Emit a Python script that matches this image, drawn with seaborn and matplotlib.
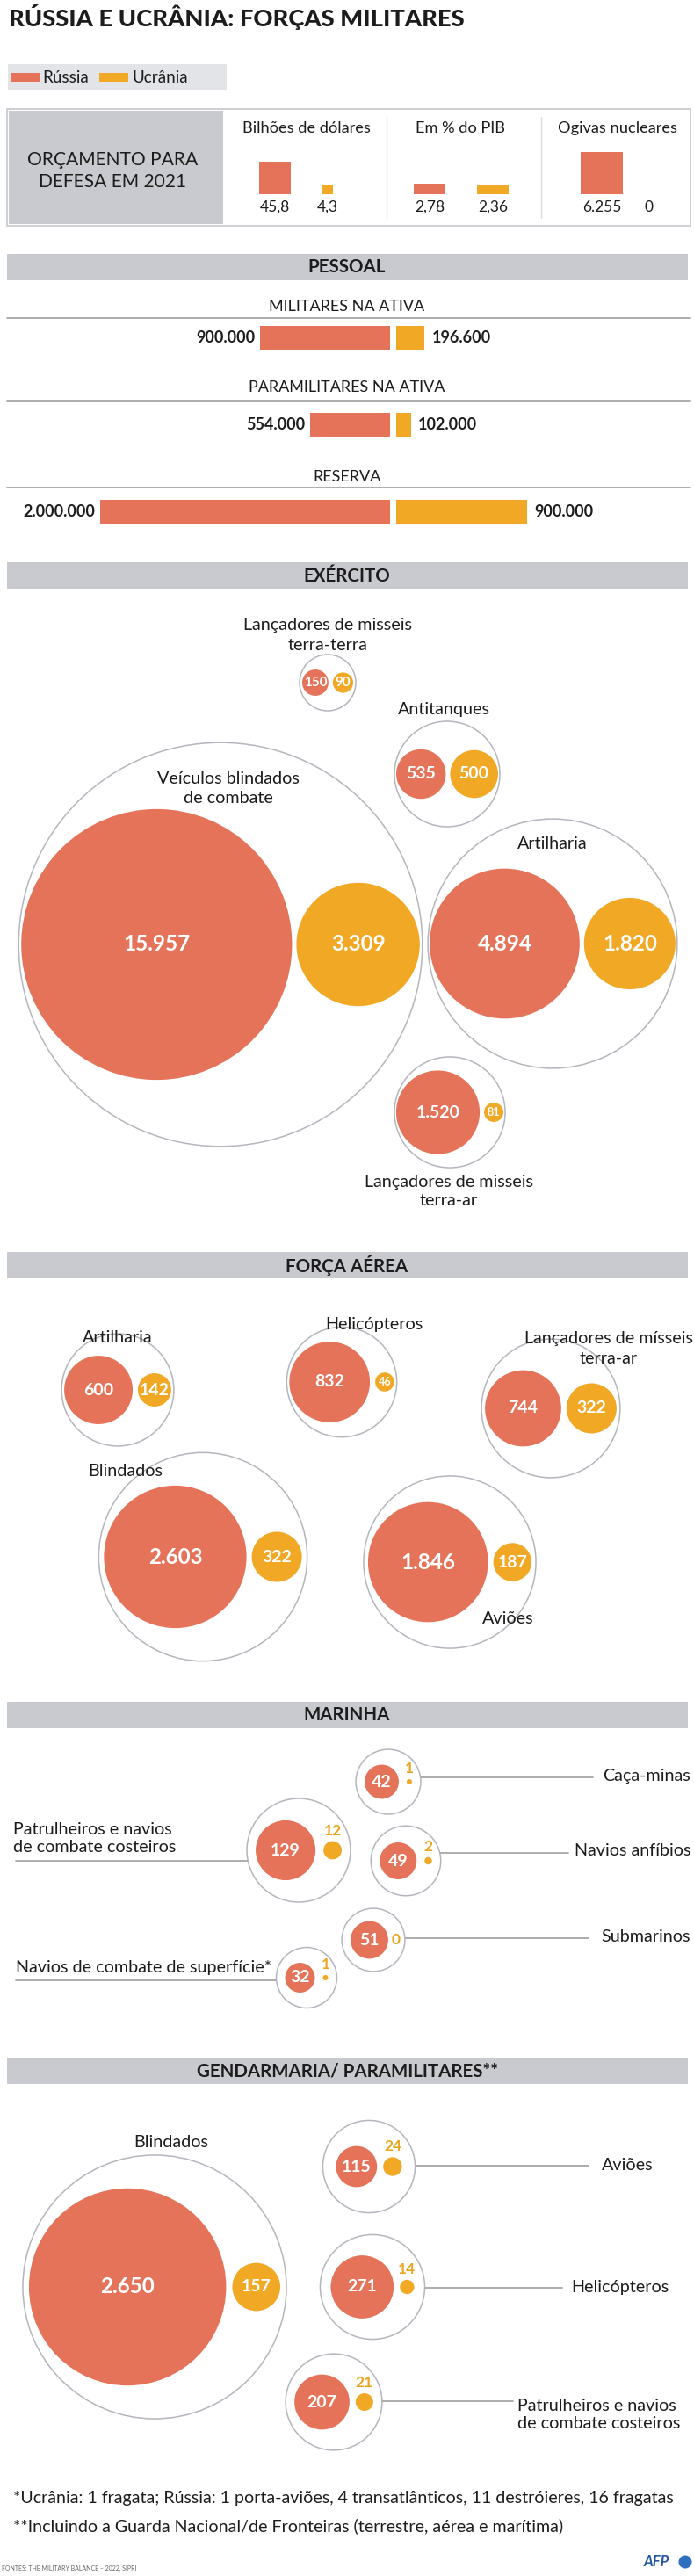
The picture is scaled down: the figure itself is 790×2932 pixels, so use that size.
import numpy as np
import pandas as pd
import matplotlib
matplotlib.use("Agg")
import matplotlib.pyplot as plt
from matplotlib.patches import Rectangle, Circle
import seaborn as sns

# ---------------- DATA ----------------
legend_labels = ["Rússia", "Ucrânia"]

budget_titles = ["Bilhões de dólares", "Em % do PIB", "Ogivas nucleares"]
budget_russia = [45.8, 2.78, 6255]
budget_ukraine = [4.3, 2.36, 0]

personnel_titles = ["MILITARES NA ATIVA", "PARAMILITARES NA ATIVA", "RESERVA"]
personnel_russia = [900000, 554000, 2000000]
personnel_ukraine = [196600, 102000, 900000]

army_titles = ["Lançadores de misseis\nterra-terra", "Antitanques",
               "Veículos blindados\nde combate", "Artilharia",
               "Lançadores de misseis\nterra-ar"]
army_russia = [150, 535, 15957, 4894, 1520]
army_ukraine = [90, 500, 3309, 1820, 81]

air_titles = ["Artilharia", "Helicópteros", "Lançadores de mísseis\nterra-ar",
              "Blindados", "Aviões"]
air_russia = [600, 832, 744, 2603, 1846]
air_ukraine = [142, 46, 322, 322, 187]

navy_titles = ["Caça-minas", "Patrulheiros e navios\nde combate costeiros",
               "Navios anfíbios", "Submarinos", "Navios de combate de superfície*"]
navy_russia = [42, 129, 49, 51, 32]
navy_ukraine = [1, 12, 2, 0, 1]

gend_titles = ["Blindados", "Aviões", "Helicópteros",
               "Patrulheiros e navios\nde combate costeiros"]
gend_russia = [2650, 115, 271, 207]
gend_ukraine = [157, 24, 14, 21]

section_titles = ["PESSOAL", "EXÉRCITO", "FORÇA AÉREA", "MARINHA",
                  "GENDARMARIA/ PARAMILITARES**"]
title_text = "RÚSSIA E UCRÂNIA: FORÇAS MILITARES"
budget_panel_text = ["ORÇAMENTO PARA", "DEFESA EM 2021"]
footnotes = ["*Ucrânia: 1 fragata; Rússia: 1 porta-aviões, 4 transatlânticos, 11 destróieres, 16 fragatas",
             "**Incluindo a Guarda Nacional/de Fronteiras (terrestre, aérea e marítima)"]
source_text = "FONTES: THE MILITARY BALANCE – 2022, SIPRI"

# ---------------- STYLE / LAYOUT ----------------
RUS = "#E4735A"
UKR = "#F1A824"
UKR_TXT = "#E9A51E"
GRAY_BAR = "#C9CAD0"
OUTLINE = "#B3B6BD"
LINE = "#9E9E9E"
TXT = "#1C1C1C"
PALETTE = {legend_labels[0]: RUS, legend_labels[1]: UKR}

W, H = 790, 2932
HEADER_Y = [289, 640, 1425, 1937, 2342]

sns.set_theme(style="white")
plt.rcParams['font.family'] = ['Lato', 'DejaVu Sans']

fig = plt.figure(figsize=(W / 100, H / 100), dpi=100)
fig.patch.set_facecolor("white")
ax = fig.add_axes([0, 0, 1, 1])
ax.set_xlim(0, W)
ax.set_ylim(H, 0)
ax.axis("off")
renderer = fig.canvas.get_renderer()


def text_width(s, fs, weight):
    t = ax.text(0, 0, s, fontsize=fs, fontweight=weight)
    w = t.get_window_extent(renderer).width
    t.remove()
    return w


def fit_size(pairs, weight="normal", base=13.0):
    """font size whose rendered width matches the reference widths (median)"""
    return float(np.median([base * tw / text_width(s, base, weight) for s, tw in pairs]))


TITLE_WEIGHT = "black"
FS_TITLE = fit_size([(title_text, 517)], TITLE_WEIGHT)
FS_LEGEND = fit_size([("Rússia", 53), ("Ucrânia", 63)])
FS_PANEL = fit_size([("ORÇAMENTO PARA", 194), ("DEFESA EM 2021", 167)])
FS_BHEAD = fit_size([("Bilhões de dólares", 146), ("Em % do PIB", 99), ("Ogivas nucleares", 137)])
FS_ROW = fit_size([("MILITARES NA ATIVA", 177), ("PARAMILITARES NA ATIVA", 221), ("RESERVA", 77)])
FS_CAT = fit_size([("Lançadores de misseis", 189), ("Antitanques", 105), ("Veículos blindados", 159),
                   ("Artilharia", 82), ("Helicópteros", 111), ("Blindados", 84), ("Aviões", 58),
                   ("Caça-minas", 100), ("Patrulheiros e navios", 181), ("Navios anfíbios", 131),
                   ("Submarinos", 103), ("Navios de combate de superfície*", 279)])
FS_FOOT = fit_size([(footnotes[0], 753), (footnotes[1], 627)])
FS_HEAD = fit_size([("PESSOAL", 87), ("MARINHA", 100)], "bold")


def fmt_pt(v):
    if float(v).is_integer():
        return f"{int(v):,}".replace(",", ".")
    return f"{v}".replace(".", ",")


def txt(x, y, s, fs, ha="center", va="center", color=TXT, weight="normal", z=5):
    ax.text(x, y, s, fontsize=fs, ha=ha, va=va, color=color, fontweight=weight, zorder=z)


def lines_txt(x, ys, s, fs, ha="center"):
    for yy, line in zip(ys, s.split("\n")):
        txt(x, yy, line, fs, ha=ha)


# ---------------- TITLE & LEGEND ----------------
txt(10, 19, title_text, FS_TITLE, ha="left", weight=TITLE_WEIGHT)
ax.add_patch(Rectangle((9, 73), 249, 29, color="#E3E4E8", lw=0, zorder=1))
for sx, tx, lab, col in [(12, 48, legend_labels[0], RUS), (113, 151, legend_labels[1], UKR)]:
    ax.add_patch(Rectangle((sx, 83), 33, 10, color=col, lw=0, zorder=2))
    txt(tx, 88, lab, FS_LEGEND, ha="left")

# ---------------- BUDGET ----------------
ax.add_patch(Rectangle((8, 124), 778, 133, fill=False, edgecolor="#C6C7CC", lw=1.2, zorder=1))
ax.add_patch(Rectangle((10, 126), 244, 129, color=GRAY_BAR, lw=0, zorder=1))
txt(128, 182, budget_panel_text[0], FS_PANEL)
txt(128, 207, budget_panel_text[1], FS_PANEL)
for sx in (440, 616):
    ax.plot([sx, sx], [133, 248], color="#DCDCDC", lw=1, zorder=1)

BUDGET_TITLE_X = [349, 524, 703]
BUDGET_X = [(313, 373), (489, 561), (685, 738)]
BUDGET_MODE = ["square", "bar", "square"]
BUDGET_K = [5.4, 4.3, 0.607]
BUDGET_BAR_W = 36
BUDGET_BASE = 221
for i in range(3):
    txt(BUDGET_TITLE_X[i], 146, budget_titles[i], FS_BHEAD)
    for v, xc, col in [(budget_russia[i], BUDGET_X[i][0], RUS), (budget_ukraine[i], BUDGET_X[i][1], UKR)]:
        if BUDGET_MODE[i] == "square":
            side = BUDGET_K[i] * np.sqrt(v)
            wdt = side
        else:
            side = BUDGET_K[i] * v
            wdt = BUDGET_BAR_W
        if v > 0:
            ax.bar([xc], [-side], width=wdt, bottom=BUDGET_BASE, color=col, lw=0, zorder=2)
        txt(xc, 236, fmt_pt(v), 12.5)

# ---------------- SECTION HEADERS ----------------
for y0, t in zip(HEADER_Y, section_titles):
    ax.add_patch(Rectangle((8, y0), 775, 30, color=GRAY_BAR, lw=0, zorder=1))
    txt(395, y0 + 15.5, t, FS_HEAD, weight="bold")

# ---------------- PERSONNEL ----------------
PX_PER_PERSON = 1.65e-4
ROW_TITLE_Y = [349, 441, 543]
ROW_LINE_Y = [362, 456, 555]
for t, ty, ly in zip(personnel_titles, ROW_TITLE_Y, ROW_LINE_Y):
    txt(395, ty, t, FS_ROW)
    ax.plot([8, 786], [ly, ly], color=LINE, lw=1.2, zorder=1)

ROW0, ROW_STEP = 384.5, 99.0
ax_top = ROW0 - 0.5 * ROW_STEP
ax_h = 3 * ROW_STEP
bar_df = pd.DataFrame({"cat": personnel_titles, "r": personnel_russia, "u": personnel_ukraine})

RUS_L, RUS_R = 9, 444
UKR_L, UKR_R = 451, 786
ax_r = fig.add_axes([RUS_L / W, 1 - (ax_top + ax_h) / H, (RUS_R - RUS_L) / W, ax_h / H])
ax_u = fig.add_axes([UKR_L / W, 1 - (ax_top + ax_h) / H, (UKR_R - UKR_L) / W, ax_h / H])
sns.barplot(data=bar_df, x="r", y="cat", orient="h", color=RUS, saturation=1,
            width=27 / ROW_STEP, errorbar=None, ax=ax_r, linewidth=0)
sns.barplot(data=bar_df, x="u", y="cat", orient="h", color=UKR, saturation=1,
            width=27 / ROW_STEP, errorbar=None, ax=ax_u, linewidth=0)
ax_r.set_xlim((RUS_R - RUS_L) / PX_PER_PERSON, 0)
ax_u.set_xlim(0, (UKR_R - UKR_L) / PX_PER_PERSON)
for a in (ax_r, ax_u):
    a.set_ylim(2.5, -0.5)
    a.axis("off")
for i, (vr, vu) in enumerate(zip(personnel_russia, personnel_ukraine)):
    ax_r.annotate(fmt_pt(vr), (vr, i), xytext=(-4, 0), textcoords="offset points",
                  ha="right", va="center", fontsize=13, fontweight="bold", color=TXT)
    ax_u.annotate(fmt_pt(vu), (vu, i), xytext=(6, 0), textcoords="offset points",
                  ha="left", va="center", fontsize=13, fontweight="bold", color=TXT)


# ---------------- BUBBLES ----------------
def val_fs(r):
    if r >= 50:
        return 17.5
    if r >= 16:
        return 14
    if r >= 11.5:
        return 11
    return 9


def bubbles(rus, ukr, k, gap, centers, pads, above=False):
    rows, geo = [], []
    for vr, vu, (cx, cy), pad in zip(rus, ukr, centers, pads):
        rr, ru = k * np.sqrt(vr), k * np.sqrt(vu)
        w = 2 * rr + gap + 2 * ru
        left = cx - w / 2
        xr, xu = left + rr, left + 2 * rr + gap + ru
        R = w / 2 + pad
        ax.add_patch(Circle((cx, cy), R, facecolor="white", edgecolor=OUTLINE, lw=1.1, zorder=2))
        rows.append(dict(x=xr, y=cy, r=rr, pais=legend_labels[0]))
        rows.append(dict(x=xu, y=cy, r=ru, pais=legend_labels[1]))
        geo.append((cx, cy, R))
        txt(xr, cy, fmt_pt(vr), val_fs(rr), color="white", weight="bold")
        if above and ru < 15:
            yy = cy if vu == 0 else cy - ru - 12
            txt(xu, yy, fmt_pt(vu), 12.5, color=UKR_TXT, weight="bold")
        else:
            txt(xu, cy, fmt_pt(vu), val_fs(ru), color="white", weight="bold")
    df = pd.DataFrame(rows)
    sns.scatterplot(data=df, x="x", y="y", hue="pais", palette=PALETTE,
                    s=(1.44 * df["r"]) ** 2, linewidth=0, legend=False, ax=ax, zorder=3)
    return geo


# Army
ARMY_CENTERS = [(373, 777), (509, 881), (251, 1075), (629, 1074), (512, 1266)]
ARMY_PADS = [3, 2, 3, 2, 2]
ARMY_LABELS = [(373, [712, 735]), (505, [808]), (260, [886, 908]), (629, [960]), (511, [1345, 1367])]
bubbles(army_russia, army_ukraine, 1.22, 5, ARMY_CENTERS, ARMY_PADS)
for t, (lx, ly) in zip(army_titles, ARMY_LABELS):
    lines_txt(lx, ly, t, FS_CAT)

# Air force
AIR_CENTERS = [(134, 1582), (389, 1573), (627, 1603), (231, 1772), (512, 1778)]
AIR_PADS = [3, 3, 4, 6, 5]
AIR_LABELS = [(134, [1522]), (426, [1508]), (693, [1524, 1546]), (143, [1675]), (578, [1842])]
bubbles(air_russia, air_ukraine, 1.59, 6, AIR_CENTERS, AIR_PADS)
for t, (lx, ly) in zip(air_titles, AIR_LABELS):
    lines_txt(lx, ly, t, FS_CAT)

# Navy
NAVY_CENTERS = [(442, 2028), (340, 2106), (462, 2118), (425, 2208), (349, 2251)]
NAVY_SIDE = ["right", "left", "right", "right", "left"]
NAVY_LINE_Y = [2023, 2118, 2109, 2206, 2254]
NAVY_LINE_END = [675, 18, 647, 670, 18]
NAVY_TEXT = [(786, [2021]), (15, [2083, 2103]), (786, [2106]), (786, [2204]), (18, [2240])]
geo = bubbles(navy_russia, navy_ukraine, 3.0, 9, NAVY_CENTERS, [10] * 5, above=True)
for (cx, cy, R), side, ly, lend, t, (tx, tys) in zip(geo, NAVY_SIDE, NAVY_LINE_Y, NAVY_LINE_END,
                                                    navy_titles, NAVY_TEXT):
    dx = np.sqrt(max(R ** 2 - (ly - cy) ** 2, 0))
    if side == "right":
        ax.plot([cx + dx, lend], [ly, ly], color=LINE, lw=1.2, zorder=1)
        lines_txt(tx, tys, t, FS_CAT, ha="right")
    else:
        ax.plot([lend, cx - dx], [ly, ly], color=LINE, lw=1.2, zorder=1)
        lines_txt(tx, tys, t, FS_CAT, ha="left")

# Gendarmerie
GEND_CENTERS = [(176, 2603), (420, 2466), (424, 2603), (380, 2734)]
GEND_PADS = [7, 15, 12, 10]
GEND_LINE = [None, (2465, 670), (2604, 640), (2733, 584)]
GEND_TEXT = [(195, [2438], "center"), (685, [2464], "left"), (650, [2604], "left"),
             (589, [2738, 2758], "left")]
geo = bubbles(gend_russia, gend_ukraine, 2.18, 7, GEND_CENTERS, GEND_PADS, above=True)
for (cx, cy, R), ln, t, (tx, tys, ha) in zip(geo, GEND_LINE, gend_titles, GEND_TEXT):
    if ln is not None:
        ly, lend = ln
        dx = np.sqrt(max(R ** 2 - (ly - cy) ** 2, 0))
        ax.plot([cx + dx, lend], [ly, ly], color=LINE, lw=1.2, zorder=1)
    lines_txt(tx, tys, t, FS_CAT, ha=ha)

# ---------------- FOOTER ----------------
txt(15, 2843, footnotes[0], FS_FOOT, ha="left")
txt(15, 2875, footnotes[1], FS_FOOT, ha="left")
txt(2, 2923, source_text, 5, ha="left", color="#666666")
ax.text(733, 2916, "AFP", fontsize=12, fontweight="bold", fontstyle="italic",
        color="#2457A4", ha="left", va="center")
ax.add_patch(Circle((780, 2916), 7.5, color="#2F6FBF", lw=0, zorder=3))

ax.set_xlim(0, W)
ax.set_ylim(H, 0)
fig.savefig("out.png", dpi=100, facecolor="white")
